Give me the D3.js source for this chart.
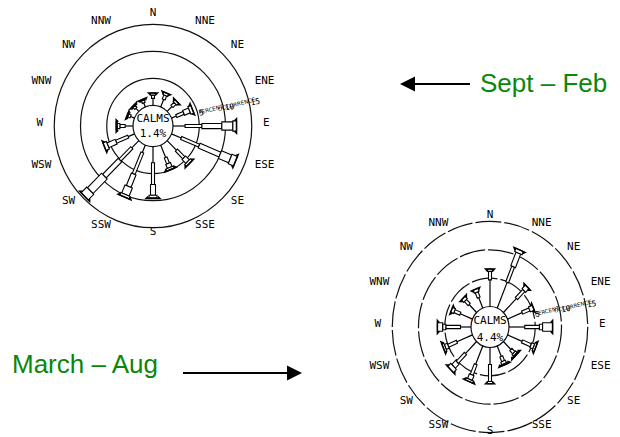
<!DOCTYPE html>
<html><head><meta charset="utf-8">
<script src="https://cdn.jsdelivr.net/npm/d3@7"></script>
<style>body{margin:0;background:#fff}svg{display:block}</style>
</head><body>
<svg id="chart" width="620" height="437"></svg>
<script>
// ---------- DATA ----------
const directions = ["N","NNE","NE","ENE","E","ESE","SE","SSE","S","SSW","SW","WSW","W","WNW","NW","NNW"];
const ringTicks = [5, 10, 15];            // percent occurrence rings
const ringTickLabels = ["5", "10", "15"];
const seasonTitles = ["Sept \u2013 Feb", "March \u2013 Aug"];
const calmsValues = ["1.4%", "4.4%"];

// Sept – Feb : percent occurrence per speed class, directions N..NNW
const sepFebClass1 = [1.3,1.5,1.3,1.0,2.3,2.0,2.5,2.5,3.0,1.5,1.9,1.3,1.5,0.8,0.8,0.8];
const sepFebClass2 = [0.6,0.8,0.8,1.5,3.2,3.7,2.0,1.2,4.0,4.3,3.2,2.5,1.0,0.5,0.5,0.5];
const sepFebClass3 = [0.4,0.5,0.5,1.2,3.8,4.3,1.0,0.8,2.0,2.5,4.2,1.7,0.5,0.2,0.2,0.2];
const sepFebClass4 = [0,0,0,0.6,2.1,2.1,0.5,0.4,0.5,1.6,3.8,0.7,0.2,0,0,0];
const sepFebClass5 = [0,0,0,0,0.7,1.1,0,0,0.1,0.5,1.5,0,0,0,0,0];

// March – Aug
const marAugClass1 = [4.7,4.9,3.5,3.0,3.0,3.0,2.0,2.0,3.0,3.5,3.0,3.2,2.0,2.5,2.0,2.0];
const marAugClass2 = [1.5,3.0,2.0,1.5,2.8,1.8,0.8,0.9,3.0,2.0,2.2,1.8,2.8,1.2,1.0,1.0];
const marAugClass3 = [0.4,2.6,0.9,0.8,0.6,0.6,0.4,0.5,0.4,0.9,1.0,0.6,0.6,0.6,0.6,0.6];
const marAugClass4 = [0,0.6,0,0,1.9,0.4,0.2,0.2,0,0.4,0.8,0.4,1.0,0,0,0];
const marAugClass5 = [0,0,0,0,0,0,0,0,0,0,0,0,0,0,0,0];

// ---------- DRAW ----------
const svg = d3.select("#chart");
const classWidths = [1, 3, 5, 8, 10];
const angle = d3.scalePoint().domain(directions).range([0, 337.5]);

function drawRose(cfg) {
  const {cx, cy, sy, calmR, classes, calms, dashed} = cfg;
  const r = d3.scaleLinear().domain([0, 15]).range([calmR, calmR + 15 * 5.25]);
  const g = svg.append("g").attr("transform", `translate(${cx},${cy}) scale(1,${sy})`);
  // rings
  g.selectAll("circle.ring").data(ringTicks).join("circle")
    .attr("r", d => r(d)).attr("fill", "none").attr("stroke", "#111")
    .attr("stroke-width", 1.2).attr("vector-effect", "non-scaling-stroke")
    .attr("stroke-dasharray", dashed ? "26,3" : null);
  // calms circle
  g.append("circle").attr("r", calmR).attr("fill", "#fff").attr("stroke", "#111")
    .attr("stroke-width", 1.2).attr("vector-effect", "non-scaling-stroke");
  // spokes
  directions.forEach((dir, i) => {
    const vals = classes.map(c => c[i]);
    const sg = g.append("g").attr("transform", `rotate(${angle(dir)})`);
    let cum = 0, lastW = 1;
    vals.forEach((v, k) => {
      if (v <= 0) return;
      const r0 = r(cum), r1 = r(cum + v);
      cum += v;
      const w = classWidths[k];
      lastW = w;
      if (k === 0) {
        sg.append("line").attr("x1", 0).attr("x2", 0).attr("y1", -r0).attr("y2", -r1)
          .attr("stroke", "#000").attr("stroke-width", 1.2).attr("vector-effect", "non-scaling-stroke");
      } else {
        sg.append("rect").attr("x", -w / 2).attr("width", w).attr("y", -r1).attr("height", r1 - r0)
          .attr("fill", "#fff").attr("stroke", "#000").attr("stroke-width", 1.1)
          .attr("vector-effect", "non-scaling-stroke");
      }
    });
    const rEnd = r(cum);
    const cw = lastW + 4;
    sg.append("path").attr("d", `M${-lastW/2},${-rEnd + 2}L${-cw/2},${-rEnd}L${cw/2},${-rEnd}L${lastW/2},${-rEnd + 2}`)
      .attr("fill", "none").attr("stroke", "#000").attr("stroke-width", 1.5)
      .attr("vector-effect", "non-scaling-stroke");
  });
  // compass labels
  const R = cfg.labelR;
  svg.append("g").selectAll("text").data(directions).join("text")
    .attr("x", d => cx + Math.sin(angle(d) * Math.PI / 180) * R)
    .attr("y", d => cy - Math.cos(angle(d) * Math.PI / 180) * (d === "S" ? cfg.labelRS : R))
    .attr("text-anchor", d => { const a = angle(d); return (a === 0 || a === 180) ? "middle" : (a < 180 ? "start" : "end"); })
    .attr("font-family", "DejaVu Sans Mono, monospace").attr("font-size", 11).attr("fill", "#000")
    .text(d => d);
  // calms text
  svg.append("text").attr("x", cx).attr("y", cy - cfg.calmsDy[0]).attr("text-anchor", "middle")
    .attr("font-family", "DejaVu Sans Mono, monospace").attr("font-size", 11).attr("fill", "#000").text("CALMS");
  svg.append("text").attr("x", cx).attr("y", cy + cfg.calmsDy[1]).attr("text-anchor", "middle")
    .attr("font-family", "DejaVu Sans Mono, monospace").attr("font-size", 11).attr("fill", "#000").text(calms);
  // percent occurrence axis labels
  const th = cfg.axisBearing * Math.PI / 180;
  const rot = cfg.axisBearing - 90;
  function place(rr, off) {
    const x = cx + Math.sin(th) * rr;
    const y = cy - Math.cos(th) * rr * sy - off;
    return [x, y];
  }
  ringTicks.forEach((t, i) => {
    const [x, y] = place(r(t) + 1, 1);
    svg.append("text").attr("transform", `translate(${x},${y}) rotate(${rot})`)
      .attr("font-family", "DejaVu Sans Mono, monospace").attr("font-size", 8).attr("fill", "#000")
      .text(ringTickLabels[i]);
  });
  [["PERCENT", 7.5], ["OCCURRENCE", 12.5]].forEach(([txt, p]) => {
    const [x, y] = place(r(p), 3);
    svg.append("text").attr("transform", `translate(${x},${y}) rotate(${rot - 4})`)
      .attr("text-anchor", "middle")
      .attr("font-family", "DejaVu Sans, sans-serif").attr("font-size", 5.5).attr("fill", "#000")
      .text(txt);
  });
}

drawRose({cx: 153, cy: 126, sy: 1.03, calmR: 20, labelR: 110, labelRS: 109, calms: calmsValues[0],
  classes: [sepFebClass1, sepFebClass2, sepFebClass3, sepFebClass4, sepFebClass5],
  calmsDy: [4, 11], axisBearing: 79, dashed: false});
drawRose({cx: 490, cy: 327, sy: 1.08, calmR: 19, labelR: 109, labelRS: 106.5, calms: calmsValues[1],
  classes: [marAugClass1, marAugClass2, marAugClass3, marAugClass4, marAugClass5],
  calmsDy: [3, 14], axisBearing: 80, dashed: true});

// season annotations with arrows
function arrow(x1, x2, y) {
  const dir = Math.sign(x2 - x1);
  svg.append("line").attr("x1", x1).attr("x2", x2 - dir * 12).attr("y1", y).attr("y2", y)
    .attr("stroke", "#000").attr("stroke-width", 2);
  svg.append("path").attr("d", `M${x2},${y}L${x2 - dir * 15},${y - 7.5}L${x2 - dir * 15},${y + 7.5}Z`)
    .attr("fill", "#000");
}
arrow(470, 400, 84);
arrow(183, 302, 373);
svg.append("text").attr("x", 480).attr("y", 92).attr("font-family", "Liberation Sans, Arial, sans-serif")
  .attr("font-size", 26).attr("fill", "#0a870a").text(seasonTitles[0]);
svg.append("text").attr("x", 12).attr("y", 373).attr("font-family", "Liberation Sans, Arial, sans-serif")
  .attr("font-size", 26).attr("fill", "#0a870a").text(seasonTitles[1]);
</script>
</body></html>
